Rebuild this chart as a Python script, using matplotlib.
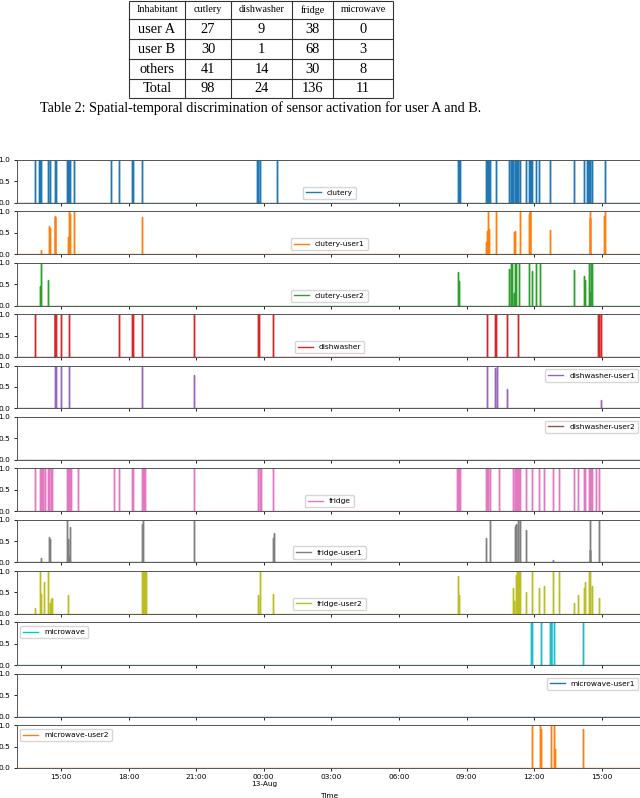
import matplotlib
matplotlib.use("Agg")
import matplotlib.pyplot as plt
import matplotlib.dates as mdates
import pandas as pd

# ---- table data -------------------------------------------------------
table_header = ["Inhabitant", "cutlery", "dishwasher", "fridge", "microwave"]
table_rows = ["user A", "user B", "others", "Total"]
table_cutlery = [27, 30, 41, 98]
table_dishwasher = [9, 1, 14, 24]
table_fridge = [38, 68, 30, 136]
table_microwave = [0, 3, 8, 11]
caption = "Table 2: Spatial-temporal discrimination of sensor activation for user A and B."

# ---- sensor activations ("DD HH:MM" in August) ------------------------
t_start = "12 13:02"
t_end = "13 16:47"

clutery_t = ["12 13:51", "12 14:02", "12 14:04", "12 14:07", "12 14:25", "12 14:31",
             "12 14:43", "12 14:45", "12 14:47", "12 15:17", "12 15:19", "12 15:21",
             "12 15:24", "12 15:35", "12 17:14", "12 17:35", "12 18:09", "12 18:11",
             "12 18:36", "12 23:42", "12 23:44", "12 23:46", "12 23:49", "13 00:34",
             "13 08:37", "13 08:40", "13 08:43", "13 09:51", "13 09:54", "13 09:57",
             "13 10:00", "13 10:03", "13 10:19", "13 10:54", "13 10:58", "13 11:01",
             "13 11:04", "13 11:08", "13 11:11", "13 11:14", "13 11:18", "13 11:23",
             "13 11:37", "13 11:45", "13 11:48", "13 11:51", "13 11:55", "13 12:06",
             "13 12:14", "13 12:43", "13 13:45", "13 14:12", "13 14:21", "13 14:24",
             "13 14:27", "13 14:30", "13 14:33", "13 15:08"]

clutery_user1_t = ["12 14:07", "12 14:29", "12 14:31", "12 14:44", "12 14:45", "12 15:19",
                   "12 15:21", "12 15:24", "12 15:35", "12 18:36", "13 09:52", "13 09:55",
                   "13 09:58", "13 10:00", "13 10:19", "13 11:07", "13 11:10", "13 11:23",
                   "13 11:45", "13 11:48", "13 11:50", "13 12:43", "13 14:28", "13 14:30",
                   "13 15:05", "13 15:08"]
clutery_user1_h = [0.10, 0.65, 0.62, 0.90, 0.88, 0.40,
                   1.00, 0.93, 1.00, 0.88, 0.28, 0.55,
                   1.00, 0.60, 1.00, 0.52, 0.55, 1.00,
                   0.95, 1.00, 1.00, 0.56, 0.85, 1.00,
                   0.90, 1.00]

clutery_user2_t = ["12 14:03", "12 14:07", "12 14:25", "13 08:38", "13 08:40", "13 10:54",
                   "13 10:59", "13 11:02", "13 11:07", "13 11:10", "13 11:13", "13 11:20",
                   "13 11:46", "13 11:55", "13 12:06", "13 12:15", "13 13:45", "13 14:12",
                   "13 14:15", "13 14:25", "13 14:28", "13 14:31", "13 14:33"]
clutery_user2_h = [0.45, 1.00, 0.60, 0.78, 0.57, 0.85,
                   1.00, 1.00, 0.30, 1.00, 1.00, 1.00,
                   1.00, 0.80, 1.00, 1.00, 0.82, 0.70,
                   0.60, 1.00, 0.30, 1.00, 1.00]

dishwasher_t = ["12 13:51", "12 14:43", "12 14:45", "12 14:47", "12 15:00", "12 15:21",
                "12 17:35", "12 18:10", "12 18:12", "12 18:36", "12 20:53", "12 23:45",
                "12 23:47", "13 00:24", "13 09:55", "13 10:16", "13 10:19", "13 10:49",
                "13 11:18", "13 14:51", "13 14:54", "13 14:57"]

dishwasher_user1_t = ["12 14:44", "12 14:46", "12 15:00", "12 15:21", "12 18:36", "12 20:53",
                      "13 09:55", "13 10:17", "13 10:20", "13 10:49", "13 14:57"]
dishwasher_user1_h = [1.00, 1.00, 1.00, 1.00, 0.96, 0.77,
                      1.00, 0.94, 1.00, 0.44, 0.20]

dishwasher_user2_t = []
dishwasher_user2_h = []

fridge_t = ["12 13:51", "12 14:03", "12 14:06", "12 14:09", "12 14:12", "12 14:17",
            "12 14:25", "12 14:28", "12 14:33", "12 14:36", "12 15:15", "12 15:18",
            "12 15:21", "12 15:24", "12 15:27", "12 15:45", "12 17:22", "12 17:35",
            "12 18:09", "12 18:11", "12 18:36", "12 18:39", "12 18:42", "12 18:45",
            "12 20:53", "12 23:46", "12 23:49", "12 23:52", "13 00:24", "13 08:35",
            "13 08:38", "13 08:41", "13 08:43", "13 09:52", "13 09:55", "13 09:58",
            "13 10:03", "13 10:27", "13 11:05", "13 11:08", "13 11:11", "13 11:14",
            "13 11:17", "13 11:20", "13 11:23", "13 11:39", "13 11:53", "13 12:14",
            "13 12:25", "13 12:49", "13 13:05", "13 13:45", "13 13:56", "13 13:58",
            "13 14:12", "13 14:15", "13 14:25", "13 14:28", "13 14:31", "13 14:33",
            "13 14:44", "13 14:54"]

fridge_user1_t = ["12 14:07", "12 14:29", "12 14:31", "12 15:17", "12 15:18", "12 15:22",
                  "12 15:23", "12 18:36", "12 18:39", "12 20:53", "13 00:25", "13 00:27",
                  "13 09:52", "13 10:03", "13 11:08", "13 11:12", "13 11:18", "13 11:23",
                  "13 11:39", "13 12:49", "13 14:28", "13 14:30", "13 14:54"]
fridge_user1_h = [0.11, 0.60, 0.55, 1.00, 0.55, 0.15,
                  0.82, 0.90, 1.00, 1.00, 0.57, 0.70,
                  0.56, 1.00, 0.85, 0.90, 1.00, 1.00,
                  0.75, 0.05, 0.30, 1.00, 1.00]

fridge_user2_t = ["12 13:51", "12 14:04", "12 14:07", "12 14:15", "12 14:25", "12 14:31",
                  "12 14:33", "12 14:36", "12 15:19", "12 18:36", "12 18:39", "12 18:42",
                  "12 18:45", "12 18:47", "12 23:46", "12 23:51", "13 00:24", "13 08:38",
                  "13 08:40", "13 11:05", "13 11:07", "13 11:13", "13 11:15", "13 11:18",
                  "13 11:20", "13 11:23", "13 11:39", "13 11:53", "13 12:14", "13 12:25",
                  "13 12:49", "13 13:05", "13 13:45", "13 13:56", "13 14:12", "13 14:15",
                  "13 14:25", "13 14:28", "13 14:33", "13 14:54"]
fridge_user2_h = [0.13, 1.00, 0.47, 0.75, 1.00, 0.25,
                  0.35, 0.36, 0.44, 1.00, 1.00, 1.00,
                  1.00, 1.00, 0.44, 1.00, 0.46, 0.88,
                  0.45, 0.60, 0.30, 0.90, 1.00, 1.00,
                  1.00, 1.00, 0.50, 1.00, 0.60, 0.65,
                  1.00, 1.00, 0.25, 0.45, 0.60, 0.75,
                  1.00, 1.00, 0.65, 0.38]

microwave_t = ["13 11:52", "13 11:54", "13 12:17", "13 12:41", "13 12:44", "13 12:46",
               "13 12:54", "13 14:09"]

microwave_user1_t = []
microwave_user1_h = []

microwave_user2_t = ["13 11:53", "13 12:15", "13 12:17", "13 12:46", "13 12:53", "13 12:56",
                     "13 14:09"]
microwave_user2_h = [1.00, 1.00, 0.90, 1.00, 1.00, 0.45, 0.92]

ON = 1.0  # binary sensors fire at full level

series = [
    ("clutery", clutery_t, [ON] * len(clutery_t), "lower center"),
    ("clutery-user1", clutery_user1_t, clutery_user1_h, "lower center"),
    ("clutery-user2", clutery_user2_t, clutery_user2_h, "lower center"),
    ("dishwasher", dishwasher_t, [ON] * len(dishwasher_t), "lower center"),
    ("dishwasher-user1", dishwasher_user1_t, dishwasher_user1_h, "upper right"),
    ("dishwasher-user2", dishwasher_user2_t, dishwasher_user2_h, "upper right"),
    ("fridge", fridge_t, [ON] * len(fridge_t), "lower center"),
    ("fridge-user1", fridge_user1_t, fridge_user1_h, "lower center"),
    ("fridge-user2", fridge_user2_t, fridge_user2_h, "lower center"),
    ("microwave", microwave_t, [ON] * len(microwave_t), "upper left"),
    ("microwave-user1", microwave_user1_t, microwave_user1_h, "upper right"),
    ("microwave-user2", microwave_user2_t, microwave_user2_h, "upper left"),
]


def to_dt(s):
    return pd.Timestamp("2016-08-" + s)


def spike_line(times, heights):
    """Baseline at 0 with a vertical spike at each activation."""
    xs = [to_dt(t_start)]
    ys = [0.0]
    for t, h in zip(times, heights):
        d = to_dt(t)
        xs += [d, d, d]
        ys += [0.0, h, 0.0]
    xs.append(to_dt(t_end))
    ys.append(0.0)
    return xs, ys


def fmt_time(x, pos=None):
    d = mdates.num2date(x)
    if d.hour == 0:
        return d.strftime("%H:%M\n%d-%b")
    return d.strftime("%H:%M")


W, H = 640, 798
fig = plt.figure(figsize=(W / 100, H / 100), dpi=100)

# ---- table drawn in pixel coordinates ---------------------------------
tab = fig.add_axes([0, 0, 1, 1])
tab.set_xlim(0, W)
tab.set_ylim(H, 0)
tab.axis("off")

col_x = [129, 185, 231, 292, 333, 393]
row_y = [0.5, 19.3, 39, 59, 79, 98]
serif = ["Liberation Serif", "DejaVu Serif"]

tab.hlines(row_y, col_x[0], col_x[-1], color="#333333", lw=0.8)
tab.vlines(col_x, row_y[0], row_y[-1], color="#333333", lw=0.8)

for j, name in enumerate(table_header):
    tab.text((col_x[j] + col_x[j + 1]) / 2, (row_y[0] + row_y[1]) / 2, name,
             ha="center", va="center", family=serif, fontsize=7.3)

columns = [table_rows, table_cutlery, table_dishwasher, table_fridge, table_microwave]
for i in range(len(table_rows)):
    for j, col in enumerate(columns):
        tab.text((col_x[j] + col_x[j + 1]) / 2, (row_y[i + 1] + row_y[i + 2]) / 2 + 0.5,
                 str(col[i]), ha="center", va="center", family=serif, fontsize=10.4)

tab.text(260.5, 108, caption, ha="center", va="center", family=serif, fontsize=10.2)

# ---- stacked sensor plots ---------------------------------------------
axes = fig.subplots(len(series), 1, sharex=True,
                    gridspec_kw=dict(left=0.026, right=1.003, top=0.7995,
                                     bottom=0.0376, hspace=0.2))

for i, (ax, (name, times, heights, loc)) in enumerate(zip(axes, series)):
    xs, ys = spike_line(times, heights)
    ax.plot(xs, ys, color=f"C{i % 10}", lw=1.0, label=name)
    ax.set_ylim(0, 1)
    ax.set_yticks([0.0, 0.5, 1.0])
    ax.tick_params(labelsize=5.3, length=2.5, width=0.6, pad=2)
    for sp in ax.spines.values():
        sp.set_linewidth(0.7)
        sp.set_color("#555555")
    ax.legend(loc=loc, fontsize=5.4)

axes[-1].set_xlim(to_dt(t_start), to_dt(t_end))
axes[-1].xaxis.set_major_locator(mdates.HourLocator(byhour=range(0, 24, 3)))
axes[-1].xaxis.set_major_formatter(plt.FuncFormatter(fmt_time))
axes[-1].set_xlabel("Time", fontsize=5.3, labelpad=4)
for lbl in axes[-1].get_xticklabels():
    lbl.set_ha("center")

fig.savefig("out.png", dpi=100)
